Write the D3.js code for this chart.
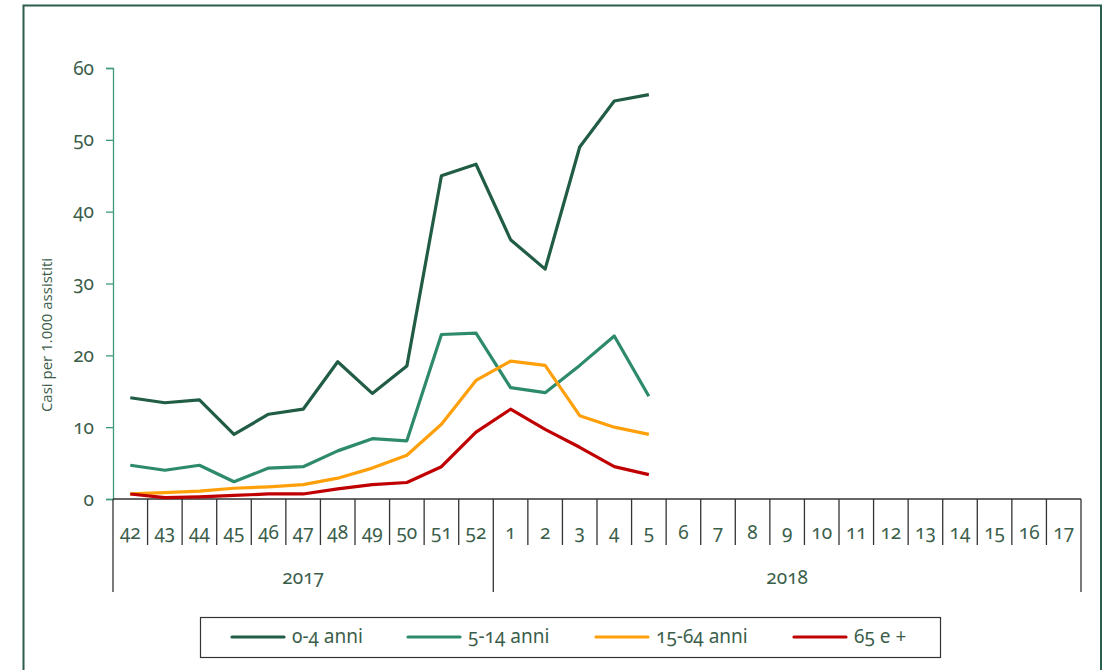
<!DOCTYPE html>
<html>
<head>
<meta charset="utf-8">
<script src="https://cdn.jsdelivr.net/npm/d3@7"></script>
<style>
  body { margin: 0; background: #fff; }
  svg text { font-family: "Noto Sans", "Open Sans", sans-serif; fill: #3b5e4b; }
  .num { font-feature-settings: "onum" 1; font-variant-numeric: oldstyle-nums; }
</style>
</head>
<body>
<div id="chart"></div>
<script>
// settimane (categorie) e anni
var weeks2017 = ['42', '43', '44', '45', '46', '47', '48', '49', '50', '51', '52'];
var weeks2018 = ['1', '2', '3', '4', '5', '6', '7', '8', '9', '10', '11', '12', '13', '14', '15', '16', '17'];
var years = ['2017', '2018'];
var yTicks = [0, 10, 20, 30, 40, 50, 60];

// casi per 1.000 assistiti, per fascia d'eta
var anni0_4 = [14.1, 13.4, 13.8, 9.0, 11.8, 12.5, 19.1, 14.7, 18.5, 45.0, 46.6, 36.1, 32.0, 49.0, 55.4, 56.3];
var anni5_14 = [4.7, 4.0, 4.7, 2.4, 4.3, 4.5, 6.7, 8.4, 8.1, 22.9, 23.1, 15.5, 14.8, 18.6, 22.7, 14.3];
var anni15_64 = [0.7, 0.9, 1.1, 1.5, 1.7, 2.0, 2.9, 4.3, 6.1, 10.4, 16.5, 19.2, 18.6, 11.6, 10.0, 9.0];
var anni65 = [0.7, 0.2, 0.3, 0.5, 0.7, 0.7, 1.4, 2.0, 2.3, 4.5, 9.3, 12.5, 9.7, 7.2, 4.5, 3.4];

var seriesNames = ['0-4 anni', '5-14 anni', '15-64 anni', '65 e +'];
var seriesColors = ['#215c45', '#2e8a6c', '#ffa00a', '#c00000'];

var series = [anni0_4, anni5_14, anni15_64, anni65].map(function (vals, i) {
    return { name: seriesNames[i], color: seriesColors[i], values: vals };
});

// chiave unica per categoria (anno + settimana)
var cats = weeks2017.map(function (w) { return '2017-' + w; })
    .concat(weeks2018.map(function (w) { return '2018-' + w; }));

var width = 1109, height = 670;
var plotLeft = 113, plotRight = 1081, plotTop = 68, plotBottom = 499;

var svg = d3.select('#chart').append('svg')
    .attr('width', width)
    .attr('height', height);

// cornice esterna
svg.append('rect')
    .attr('x', 23.5).attr('y', 5.5)
    .attr('width', 1101 - 23.5).attr('height', 700)
    .attr('fill', 'none')
    .attr('stroke', '#2b5e4c')
    .attr('stroke-width', 2);

var x = d3.scaleBand().domain(cats).range([plotLeft, plotRight]).paddingInner(0).paddingOuter(0);
var y = d3.scaleLinear().domain([0, 60]).range([plotBottom, plotTop]);

// asse y
var yAxis = svg.append('g')
    .attr('transform', 'translate(' + plotLeft + ',0)')
    .call(d3.axisLeft(y).tickValues(yTicks).tickSize(7).tickPadding(12));
yAxis.select('.domain').attr('stroke', '#3e9a7c').attr('stroke-width', 1.3);
yAxis.selectAll('.tick line').attr('stroke', '#3e9a7c').attr('stroke-width', 1.3);
yAxis.selectAll('.tick text')
    .attr('class', 'num')
    .style('font-size', '19px')
    .attr('fill', '#3b5e4b');

svg.append('text')
    .attr('transform', 'translate(52,' + 335 + ') rotate(-90)')
    .attr('text-anchor', 'middle')
    .style('font-family', '"Open Sans", "Liberation Sans", sans-serif')
    .style('font-size', '15px')
    .text('Casi per 1.000 assistiti');

// asse x: linea base, separatori di settimana e di anno
var xg = svg.append('g').attr('class', 'x axis');
xg.append('line')
    .attr('x1', plotLeft).attr('x2', plotRight)
    .attr('y1', plotBottom).attr('y2', plotBottom)
    .attr('stroke', '#333').attr('stroke-width', 1.3);

var bounds = cats.map(function (c) { return x(c); }).concat([plotRight]);
var yearStart = [0, weeks2017.length, cats.length];

xg.selectAll('line.sep').data(bounds).enter().append('line')
    .attr('class', 'sep')
    .attr('x1', function (d) { return d; })
    .attr('x2', function (d) { return d; })
    .attr('y1', plotBottom)
    .attr('y2', function (d, i) { return yearStart.indexOf(i) >= 0 ? 592 : 545; })
    .attr('stroke', '#333').attr('stroke-width', 1.3);

xg.selectAll('text.week').data(cats).enter().append('text')
    .attr('class', 'week num')
    .attr('x', function (d) { return x(d) + x.bandwidth() / 2; })
    .attr('y', 539)
    .attr('text-anchor', 'middle')
    .style('font-size', '19px')
    .text(function (d) { return d.split('-')[1]; });

xg.selectAll('text.year').data(years).enter().append('text')
    .attr('class', 'year num')
    .attr('x', function (d, i) { return (bounds[yearStart[i]] + bounds[yearStart[i + 1]]) / 2; })
    .attr('y', 584)
    .attr('text-anchor', 'middle')
    .style('font-size', '19px')
    .text(function (d) { return d; });

// linee
var line = d3.line()
    .x(function (d, i) { return x(cats[i]) + x.bandwidth() / 2; })
    .y(function (d) { return y(d); });

svg.append('g').selectAll('path').data(series).enter().append('path')
    .attr('d', function (s) { return line(s.values); })
    .attr('fill', 'none')
    .attr('stroke', function (s) { return s.color; })
    .attr('stroke-width', 3.2)
    .attr('stroke-linejoin', 'round');

// legenda
var legend = svg.append('g');
legend.append('rect')
    .attr('x', 200.5).attr('y', 617.5)
    .attr('width', 740).attr('height', 40)
    .attr('fill', '#fff')
    .attr('stroke', '#333').attr('stroke-width', 1.2);

var legendX = [232, 408, 596, 794];
var item = legend.selectAll('g.item').data(series).enter().append('g')
    .attr('class', 'item')
    .attr('transform', function (d, i) { return 'translate(' + legendX[i] + ',637)'; });
item.append('line')
    .attr('x1', 0).attr('x2', 52)
    .attr('stroke', function (d) { return d.color; })
    .attr('stroke-width', 3.2)
    .attr('stroke-linecap', 'round');
item.append('text')
    .attr('class', 'num')
    .attr('x', 60).attr('y', 6)
    .style('font-size', '19px')
    .text(function (d) { return d.name; });
</script>
</body>
</html>
